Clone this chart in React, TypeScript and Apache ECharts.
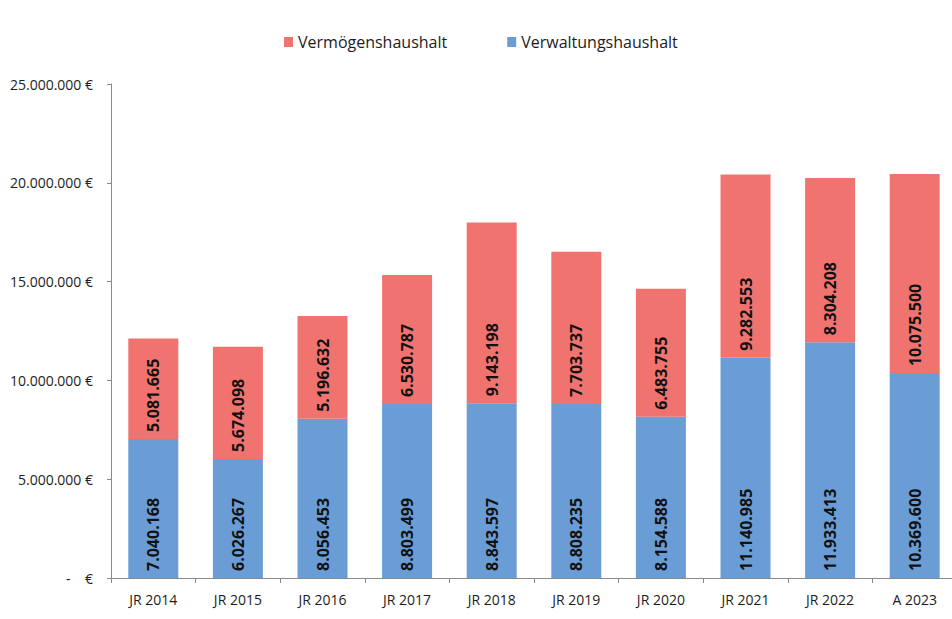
import React, { useEffect, useRef } from "react";
import * as echarts from "echarts";

const categories = ["JR 2014", "JR 2015", "JR 2016", "JR 2017", "JR 2018", "JR 2019", "JR 2020", "JR 2021", "JR 2022", "A 2023"];
const verwaltungshaushalt = [7040168, 6026267, 8056453, 8803499, 8843597, 8808235, 8154588, 11140985, 11933413, 10369600];
const vermoegenshaushalt = [5081665, 5674098, 5196632, 6530787, 9143198, 7703737, 6483755, 9282553, 8304208, 10075500];
const seriesNames = ["Vermögenshaushalt", "Verwaltungshaushalt"];
const yMax = 25000000;
const yInterval = 5000000;

const fmt = (n: number) => Math.round(n).toString().replace(/\B(?=(\d{3})+(?!\d))/g, ".");

const RED = "#F0736F";
const BLUE = "#6A9DD5";
const TEXT = "#1c1c1c";
const AXIS = "#8a8a8a";

export default function App() {
  const ref = useRef<HTMLDivElement>(null);
  useEffect(() => {
    if (!ref.current) return;
    const chart = echarts.init(ref.current, undefined, { renderer: "svg" });
    const barLabel = {
      show: true,
      position: "insideBottom",
      distance: 7,
      rotate: 90,
      align: "left",
      verticalAlign: "middle",
      color: "#111",
      fontFamily: "Open Sans",
      fontWeight: "bold",
      fontSize: 16,
      formatter: (p: any) => fmt(p.value),
    };
    chart.setOption({
      animation: false,
      backgroundColor: "#ffffff",
      legend: {
        data: seriesNames,
        left: 279,
        top: 29,
        itemWidth: 9,
        itemHeight: 10,
        itemGap: 60,
        icon: "rect",
        textStyle: { fontFamily: "Open Sans", fontSize: 16, color: TEXT },
      },
      grid: {
        left: 111,
        top: 84,
        width: 846,
        height: 494,
        containLabel: false,
        outerBoundsMode: "none",
      },
      xAxis: {
        type: "category",
        data: categories,
        axisLine: { lineStyle: { color: AXIS, width: 1 } },
        axisTick: { show: true, length: 5, lineStyle: { color: AXIS } },
        axisLabel: { color: TEXT, fontFamily: "Open Sans", fontSize: 14, margin: 14 },
      },
      yAxis: {
        type: "value",
        min: 0,
        max: yMax,
        interval: yInterval,
        axisLine: { show: true, lineStyle: { color: AXIS, width: 1 } },
        axisTick: { show: true, length: 4, lineStyle: { color: AXIS } },
        splitLine: { show: false },
        axisLabel: {
          color: TEXT,
          fontFamily: "Open Sans",
          fontSize: 14,
          margin: 18,
          formatter: (v: number) => (v === 0 ? "-    €" : fmt(v) + " €"),
        },
      },
      series: [
        {
          name: "Verwaltungshaushalt",
          type: "bar",
          stack: "total",
          data: verwaltungshaushalt,
          barWidth: 50,
          itemStyle: { color: BLUE },
          label: barLabel,
        },
        {
          name: "Vermögenshaushalt",
          type: "bar",
          stack: "total",
          data: vermoegenshaushalt,
          barWidth: 50,
          itemStyle: { color: RED },
          label: barLabel,
        },
      ],
    });
    return () => chart.dispose();
  }, []);
  return (
    <div
      ref={ref}
      style={{ position: "fixed", left: 0, top: 0, width: 952, height: 619, background: "#fff" }}
    />
  );
}
